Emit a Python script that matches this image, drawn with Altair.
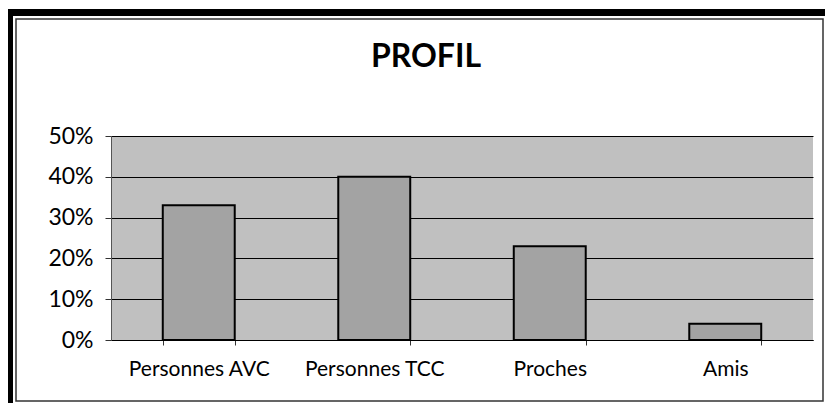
import altair as alt
import pandas as pd

title_text = "PROFIL"
categories = ["Personnes AVC", "Personnes TCC", "Proches", "Amis"]
values = [0.33, 0.40, 0.23, 0.04]
y_ticks = [0.0, 0.1, 0.2, 0.3, 0.4, 0.5]

df = pd.DataFrame({"cat": categories, "val": values})
FONT = "Lato"

frame = alt.Chart(alt.Data(values=[{"t": title_text}]))
outer = frame.mark_rect(fill=None, stroke="black", strokeWidth=7).encode(
    x=alt.value(-101.5), x2=alt.value(3000), y=alt.value(-123.5), y2=alt.value(3000)
)
inner = frame.mark_rect(fill=None, stroke="#333333", strokeWidth=1.5).encode(
    x=alt.value(-95), x2=alt.value(712), y=alt.value(-117), y2=alt.value(265)
)
title = frame.mark_text(fontSize=32, font=FONT, fontWeight="bold", color="black",
                        align="center", baseline="alphabetic").encode(
    text="t:N", x=alt.value(315), y=alt.value(-69)
)

bars = alt.Chart(df).mark_bar(fill="#A3A3A3", stroke="black", strokeWidth=2).encode(
    x=alt.X("cat:N", sort=categories, title=None,
            scale=alt.Scale(paddingInner=0.59, paddingOuter=0.295),
            axis=alt.Axis(labelAngle=0, tickBand="extent", tickSize=5, tickColor="#333",
                          domainColor="black", labelFontSize=21, labelFont=FONT,
                          labelColor="black", labelPadding=13)),
    y=alt.Y("val:Q", title=None,
            scale=alt.Scale(domain=[0, 0.5], nice=False),
            axis=alt.Axis(values=y_ticks, format=".0%", grid=True, gridColor="black",
                          gridWidth=1, gridOpacity=1, tickSize=6, tickColor="#333",
                          domainColor="#555", labelFontSize=23, labelFont=FONT,
                          labelColor="black", labelPadding=12)),
)

chart = alt.layer(outer, inner, title, bars).properties(
    width=702, height=204,
    autosize=alt.AutoSizeParams(type="none"),
    padding={"left": 103, "top": 128, "right": 12, "bottom": 63},
).configure(background="white").configure_view(fill="#C0C0C0", stroke=None)

chart.save("out.html", embed_options={"renderer": "svg", "actions": False})
